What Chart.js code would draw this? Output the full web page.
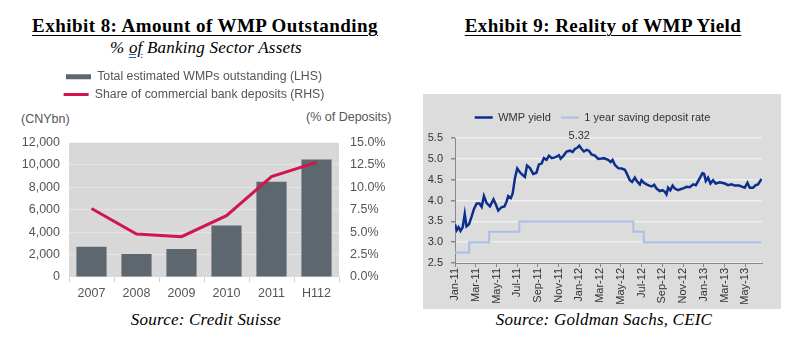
<!DOCTYPE html>
<html>
<head>
<meta charset="utf-8">
<script src="https://cdn.jsdelivr.net/npm/chart.js@4.4.0/dist/chart.umd.min.js"></script>
<style>
  body { margin: 0; width: 802px; height: 344px; background: #fff; position: relative; overflow: hidden;
         font-family: "Liberation Serif", "DejaVu Serif", serif; color: #000; }
  .t { position: absolute; white-space: nowrap; transform: translateX(-50%); }
  .title { font-weight: bold; font-size: 19px; line-height: 19px; letter-spacing: 0.45px; text-decoration: underline;
           text-decoration-thickness: 1px; text-underline-offset: 3px; }
  .sub { font-style: italic; font-size: 17px; line-height: 17px; letter-spacing: 0.2px; }
  .sub u { text-decoration-color: #3355cc; text-decoration-style: double; }
  .src { font-style: italic; font-size: 17px; line-height: 17px; letter-spacing: 0.2px; }
  .unit { position: absolute; white-space: nowrap; font-family: "Liberation Sans", Arial, sans-serif;
          font-size: 12.5px; color: #555; }
  canvas { position: absolute; }
  #right { background: #dcdcdc; }
</style>
</head>
<body>
<div class="t title" style="left:205px; top:16px;">Exhibit 8: Amount of WMP Outstanding</div>
<div class="t sub" style="left:206px; top:39px;">% <u>of</u> Banking Sector Assets</div>
<div class="unit" style="left:21px; top:112px;">(CNYbn)</div>
<div class="unit" style="left:306px; top:110px;">(% of Deposits)</div>
<div class="t src" style="left:206px; top:311px;">Source: Credit Suisse</div>

<div class="t title" style="left:603px; top:16px;">Exhibit 9: Reality of WMP Yield</div>
<div class="t src" style="left:604px; top:311px;">Source: Goldman Sachs, CEIC</div>

<canvas id="left" width="400" height="250" style="left:0; top:60px; width:400px; height:250px;"></canvas>
<canvas id="right" width="358" height="215" style="left:423px; top:94px; width:358px; height:215px;"></canvas>

<script>
// Exhibit 8
let years = ['2007', '2008', '2009', '2010', '2011', 'H112'];
let wmpOutstanding = [2700, 2050, 2500, 4600, 8500, 10500];   // CNYbn
let depositShare = [7.65, 4.8, 4.5, 6.85, 11.2, 12.8];         // % of deposits

// Exhibit 9 (x = months since Jan-11)
let monthLabels = ['Jan-11', 'Mar-11', 'May-11', 'Jul-11', 'Sep-11', 'Nov-11', 'Jan-12', 'Mar-12',
                   'May-12', 'Jul-12', 'Sep-12', 'Nov-12', 'Jan-13', 'Mar-13', 'May-13'];
let wmpMonth = [0.00, 0.16, 0.34, 0.53, 0.74, 0.94, 1.11, 1.35, 1.61, 1.83, 2.09, 2.36, 2.57, 2.79,
                3.05, 3.37, 3.71, 3.95, 4.17, 4.48, 4.77, 4.98, 5.13, 5.39, 5.56, 5.78, 6.00, 6.26,
                6.50, 6.74, 6.94, 7.23, 7.54, 7.85, 8.09, 8.35, 8.57, 8.83, 9.06, 9.32, 9.63, 9.83,
                10.02, 10.18, 10.43, 10.76, 11.08, 11.34, 11.56, 11.78, 11.98, 12.21, 12.43, 12.69,
                12.91, 13.17, 13.49, 13.81, 14.13, 14.35, 14.55, 14.77, 15.00, 15.19, 15.41, 15.73,
                16.06, 16.38, 16.60, 16.86, 17.08, 17.34, 17.56, 17.82, 17.98, 18.21, 18.47, 18.72,
                18.98, 19.20, 19.43, 19.75, 20.01, 20.23, 20.39, 20.55, 20.76, 20.98, 21.19, 21.51,
                21.82, 22.06, 22.32, 22.64, 22.96, 23.22, 23.44, 23.67, 23.86, 24.02, 24.18, 24.40,
                24.63, 24.88, 25.14, 25.53, 26.01, 26.33, 26.66, 26.97, 27.39, 27.72, 27.94, 28.20,
                28.42, 28.74, 28.99, 29.22, 29.55];
let wmpYield = [3.43, 3.29, 3.36, 3.27, 3.36, 3.68, 3.38, 3.43, 3.62, 3.80, 3.93, 3.93, 3.85, 4.11,
                3.94, 3.86, 4.03, 3.90, 3.76, 3.84, 3.86, 3.98, 4.11, 4.06, 4.17, 4.54, 4.77, 4.68,
                4.62, 4.57, 4.84, 4.78, 4.64, 4.67, 4.87, 4.89, 5.02, 4.98, 5.08, 5.02, 5.04, 5.06,
                5.09, 5.01, 5.07, 5.18, 5.20, 5.17, 5.24, 5.27, 5.32, 5.24, 5.18, 5.22,
                5.20, 5.11, 5.08, 5.00, 5.01, 5.02, 5.00, 4.98, 4.93, 4.98, 4.86, 4.78,
                4.77, 4.74, 4.63, 4.49, 4.45, 4.55, 4.46, 4.39, 4.49, 4.43, 4.39, 4.36,
                4.34, 4.38, 4.29, 4.23, 4.25, 4.21, 4.15, 4.31, 4.25, 4.36, 4.29, 4.25,
                4.28, 4.30, 4.33, 4.32, 4.39, 4.37, 4.47, 4.57, 4.66, 4.64, 4.47, 4.55,
                4.41, 4.49, 4.41, 4.44, 4.41, 4.37, 4.39, 4.36, 4.36, 4.33, 4.31, 4.43,
                4.31, 4.31, 4.37, 4.39, 4.52];
let depositMonth = [0, 1.37, 3.3, 6.2, 17.2, 18.2, 29.55];
let depositRate = [2.75, 3.00, 3.25, 3.50, 3.25, 3.00, 3.00];

let sans = '"Liberation Sans", Arial, sans-serif';

// grey plot area behind the bars
let plotBg = {
  id: 'plotBg',
  beforeDraw(chart, args, opts) {
    let a = chart.chartArea, ctx = chart.ctx;
    ctx.save();
    ctx.fillStyle = opts.color;
    ctx.fillRect(a.left, a.top, a.right - a.left, a.bottom - a.top);
    ctx.restore();
  }
};

// label over the highest WMP yield point
let peakLabel = {
  id: 'peakLabel',
  afterDatasetsDraw(chart) {
    let k = 0;
    wmpYield.forEach((v, i) => { if (v > wmpYield[k]) k = i; });
    let pt = chart.getDatasetMeta(0).data[k];
    let ctx = chart.ctx;
    ctx.save();
    ctx.font = '11px ' + sans;
    ctx.fillStyle = '#333';
    ctx.textAlign = 'center';
    ctx.textBaseline = 'middle';
    ctx.fillText(wmpYield[k].toFixed(2), pt.x, pt.y - 10);
    ctx.restore();
  }
};

new Chart(document.getElementById('left'), {
  type: 'bar',
  data: {
    labels: years,
    datasets: [{
      type: 'bar',
      label: 'Total estimated WMPs outstanding (LHS)',
      data: wmpOutstanding,
      backgroundColor: '#5d6770',
      borderWidth: 0,
      barPercentage: 0.67,
      categoryPercentage: 1.0,
      pointStyle: 'rect',
      yAxisID: 'y',
      order: 1
    }, {
      type: 'line',
      label: 'Share of commercial bank deposits (RHS)',
      data: depositShare,
      borderColor: '#d0164d',
      backgroundColor: '#d0164d',
      borderWidth: 3,
      pointRadius: 0,
      pointStyle: 'line',
      tension: 0,
      yAxisID: 'y1',
      order: 0
    }]
  },
  options: {
    responsive: false,
    animation: false,
    layout: { padding: { top: 5, left: 0, right: 12, bottom: 0 } },
    plugins: {
      plotBg: { color: '#d8d8d8' },
      tooltip: { enabled: false },
      legend: {
        labels: {
          usePointStyle: true,
          pointStyleWidth: 25,
          boxHeight: 5,
          padding: 5.5,
          color: '#555',
          font: { family: sans, size: 12.3 },
          sort: (a, b) => a.datasetIndex - b.datasetIndex
        }
      },
      title: { display: true, text: ' ', weight: 500, font: { size: 10 }, padding: { top: 10, bottom: 10 } }
    },
    scales: {
      x: {
        grid: { drawOnChartArea: false, tickLength: 5, color: '#cfcfcf' },
        border: { display: false },
        ticks: { color: '#555', font: { family: sans, size: 12.5 }, padding: 4 },
        afterFit: (s) => { s.height = 33; }
      },
      y: {
        position: 'left', min: 0, max: 12000,
        ticks: { stepSize: 2000, padding: 9, color: '#555', font: { family: sans, size: 12.5 },
                 callback: (v) => v.toLocaleString('en-US') },
        grid: { drawTicks: false, color: 'rgba(255,255,255,0.35)' },
        border: { display: false },
        afterFit: (s) => { s.width = 69; }
      },
      y1: {
        position: 'right', min: 0, max: 15,
        ticks: { stepSize: 2.5, padding: 11, color: '#555', font: { family: sans, size: 12.5 },
                 callback: (v) => v.toFixed(1) + '%' },
        grid: { display: false, drawTicks: false },
        border: { display: false },
        afterFit: (s) => { s.width = 49; }
      }
    }
  },
  plugins: [plotBg]
});

new Chart(document.getElementById('right'), {
  type: 'line',
  data: {
    datasets: [{
      label: 'WMP yield',
      data: wmpMonth.map((m, i) => ({ x: m, y: wmpYield[i] })),
      borderColor: '#0c2f8e',
      backgroundColor: '#0c2f8e',
      borderWidth: 2.5,
      pointRadius: 0,
      pointStyle: 'line',
      tension: 0
    }, {
      label: '1 year saving deposit rate',
      data: depositMonth.map((m, i) => ({ x: m, y: depositRate[i] })),
      borderColor: '#a9bfe6',
      backgroundColor: '#a9bfe6',
      borderWidth: 2,
      pointRadius: 0,
      pointStyle: 'line',
      stepped: 'before'
    }]
  },
  options: {
    responsive: false,
    animation: false,
    layout: { padding: { top: 8, left: 0, right: 19, bottom: 0 } },
    plugins: {
      tooltip: { enabled: false },
      legend: {
        labels: {
          usePointStyle: true,
          pointStyleWidth: 18,
          padding: 10,
          color: '#333',
          font: { family: sans, size: 11 }
        }
      },
      title: { display: true, text: ' ', weight: 500, font: { size: 1 }, padding: { top: 4, bottom: 0 } }
    },
    scales: {
      x: {
        type: 'linear', min: 0, max: 29.6,
        ticks: {
          stepSize: 2, autoSkip: false, includeBounds: false, minRotation: 90, maxRotation: 90,
          padding: 1, color: '#333', font: { family: sans, size: 11 },
          callback: (v) => (Number.isInteger(v / 2) ? monthLabels[v / 2] : '')
        },
        grid: { drawOnChartArea: false, tickLength: 4, tickColor: '#888' },
        border: { color: '#888', width: 1 },
        afterFit: (s) => { s.height = 46; }
      },
      y: {
        min: 2.5, max: 5.5,
        ticks: { stepSize: 0.5, padding: 8, color: '#333', font: { family: sans, size: 11 },
                 callback: (v) => v.toFixed(1) },
        grid: { color: '#eeeeee', lineWidth: 1.5, tickLength: 4, tickColor: '#888' },
        border: { color: '#888', width: 1 },
        afterFit: (s) => { s.width = 32; }
      }
    }
  },
  plugins: [peakLabel]
});
</script>
</body>
</html>
